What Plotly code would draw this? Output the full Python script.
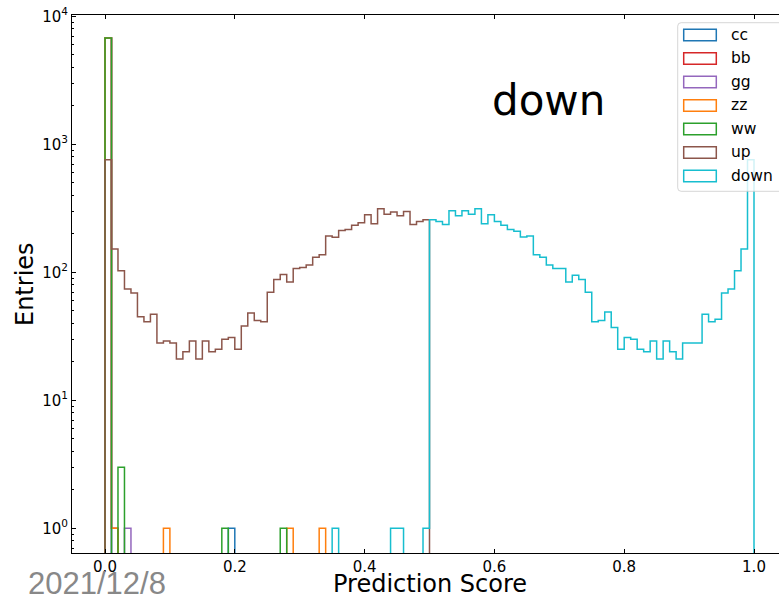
import numpy as np
import plotly.graph_objects as go

# ---------------------------------------------------------------------------
# Histogram of the "down" prediction score, 100 bins on [0, 1]
# ---------------------------------------------------------------------------
N_BINS = 100
BIN_EDGES = np.linspace(0.0, 1.0, N_BINS + 1)

# sparse bin contents {bin index: entries}
cc_counts = {0: 6784, 19: 1}
bb_counts = {0: 6784, 1: 1}
gg_counts = {0: 6784, 3: 1}
zz_counts = {0: 6781, 1: 1, 9: 1, 28: 1, 33: 1}
ww_counts = {0: 6780, 2: 3, 18: 1, 27: 1}

# "up" sample: bins 0..49
up_counts = [759, 152, 103, 74, 69, 45, 41, 47, 28, 29,
             28, 21, 24, 29, 21, 29, 24, 25, 30, 31,
             25, 38, 48, 42, 41, 70, 88, 96, 84, 107,
             109, 114, 131, 137, 192, 188, 212, 216, 233, 244,
             281, 240, 313, 284, 296, 276, 298, 236, 249, 257]

# "down" sample: a few stray entries below 0.5, then bins 50..99
down_low_counts = {35: 1, 44: 1, 45: 1, 49: 1}
down_high_counts = [257, 249, 236, 302, 276, 302, 284, 313, 240, 281,
                    249, 233, 216, 209, 189, 192, 137, 131, 114, 107,
                    107, 84, 95, 88, 70, 41, 42, 49, 37, 25,
                    31, 30, 25, 24, 29, 21, 29, 24, 21, 28,
                    28, 28, 47, 41, 43, 69, 74, 103, 152, 759]

labels = ["cc", "bb", "gg", "zz", "ww", "up", "down"]
colors = ["#1f77b4", "#d62728", "#9467bd", "#ff7f0e", "#2ca02c", "#8c564b", "#17becf"]


def dense(sparse=None, start=None, values=None):
    arr = np.zeros(N_BINS)
    if sparse:
        for k, v in sparse.items():
            arr[k] = v
    if values is not None:
        arr[start:start + len(values)] = values
    return arr


hists = [
    dense(cc_counts),
    dense(bb_counts),
    dense(gg_counts),
    dense(zz_counts),
    dense(ww_counts),
    dense(values=up_counts, start=0),
    dense(down_low_counts, start=50, values=down_high_counts),
]

FLOOR = 1e-3  # empty bins sit far below the visible log range


def step_outline(counts):
    c = np.where(counts > 0, counts, FLOOR)
    x = np.repeat(BIN_EDGES, 2)
    y = np.concatenate([[FLOOR], np.repeat(c, 2), [FLOOR]])
    return x, y


fig = go.Figure()
for lab, col, h in zip(labels, colors, hists):
    x, y = step_outline(h)
    fig.add_trace(go.Scatter(x=x, y=y, mode="lines", name=lab,
                             line=dict(color=col, width=1.5),
                             showlegend=False, hoverinfo="skip"))

# ---------------------------------------------------------------------------
# Layout (pixel helpers for the fixed 779x598 canvas)
# ---------------------------------------------------------------------------
W, H = 779, 598
ML, MR, MT, MB = 72, 0, 15, 45
PW, PH = W - ML - MR, H - MT - MB


def px(xp):
    return (xp - ML) / PW


def py(yp):
    return (H - MB - yp) / PH


FONT = "DejaVu Sans"

x_ticks = [0.0, 0.2, 0.4, 0.6, 0.8, 1.0]
y_ticks = [1, 10, 100, 1000, 10000]
y_minor = [m * 10.0 ** k for k in range(-1, 4) for m in range(2, 10)]

fig.update_layout(
    width=W, height=H,
    margin=dict(l=ML, r=MR, t=MT, b=MB),
    paper_bgcolor="white", plot_bgcolor="white",
    font=dict(family=FONT, color="black", size=15),
    showlegend=False,
    xaxis=dict(
        range=[-0.05085, 1.03852],
        tickmode="array", tickvals=x_ticks,
        ticktext=[f"{v:.1f}" for v in x_ticks],
        ticks="inside", ticklen=4, tickwidth=1, tickcolor="black",
        showline=True, linecolor="black", linewidth=1, mirror="ticks",
        showgrid=False, zeroline=False,
        tickfont=dict(family=FONT, size=15),
    ),
    yaxis=dict(
        type="log", range=[-0.193, 4.0102],
        tickmode="array", tickvals=y_ticks,
        ticktext=[f"10<sup>{i}</sup>" for i in range(5)],
        ticks="inside", ticklen=4, tickwidth=1, tickcolor="black",
        minor=dict(tickmode="array", tickvals=y_minor, ticks="inside",
                   ticklen=2, tickwidth=1, tickcolor="black", showgrid=False),
        showline=True, linecolor="black", linewidth=1, mirror=False,
        showgrid=False, zeroline=False,
        tickfont=dict(family=FONT, size=15),
    ),
)

annotations = [
    dict(text="Prediction Score", x=px(430), y=py(583.5), xref="paper", yref="paper",
         xanchor="center", yanchor="middle", showarrow=False,
         font=dict(family=FONT, size=24, color="black")),
    dict(text="Entries", x=px(25), y=py(284), xref="paper", yref="paper",
         xanchor="center", yanchor="middle", showarrow=False, textangle=-90,
         font=dict(family=FONT, size=24, color="black")),
    dict(text="down", x=px(548), y=py(100), xref="paper", yref="paper",
         xanchor="center", yanchor="middle", showarrow=False,
         font=dict(family=FONT, size=42, color="black")),
    dict(text="2021/12/8", x=px(97), y=py(583), xref="paper", yref="paper",
         xanchor="center", yanchor="middle", showarrow=False,
         font=dict(family="Liberation Sans", size=31, color="#888888")),
]

# ---------------------------------------------------------------------------
# Legend box with outlined patches
# ---------------------------------------------------------------------------
box_l, box_r, box_t, box_b, rad = 677.7, 800.0, 22.7, 191.3, 3.5
x0, x1, y0, y1 = px(box_l), px(box_r), py(box_b), py(box_t)
rx, ry = rad / PW, rad / PH
box_path = (f"M {x0 + rx},{y1} L {x1 - rx},{y1} Q {x1},{y1} {x1},{y1 - ry} "
            f"L {x1},{y0 + ry} Q {x1},{y0} {x1 - rx},{y0} L {x0 + rx},{y0} "
            f"Q {x0},{y0} {x0},{y0 + ry} L {x0},{y1 - ry} Q {x0},{y1} {x0 + rx},{y1} Z")
shapes = [dict(type="path", path=box_path, xref="paper", yref="paper",
               fillcolor="rgba(255,255,255,0.8)",
               line=dict(color="rgba(204,204,204,0.8)", width=1), layer="above")]

row0, row_step = 35.0, 23.5
patch_l, patch_r, patch_h = 683.7, 716.3, 11.7
for i, (lab, col) in enumerate(zip(labels, colors)):
    yc = row0 + i * row_step
    shapes.append(dict(type="rect", xref="paper", yref="paper",
                       x0=px(patch_l), x1=px(patch_r),
                       y0=py(yc + patch_h / 2), y1=py(yc - patch_h / 2),
                       line=dict(color=col, width=1.5),
                       fillcolor="rgba(0,0,0,0)", layer="above"))
    annotations.append(dict(text=lab, x=px(729.3), y=py(yc), xref="paper", yref="paper",
                            xanchor="left", yanchor="middle", showarrow=False,
                            font=dict(family=FONT, size=15.5, color="black")))

fig.update_layout(annotations=annotations, shapes=shapes)

fig.write_html("out.html")
